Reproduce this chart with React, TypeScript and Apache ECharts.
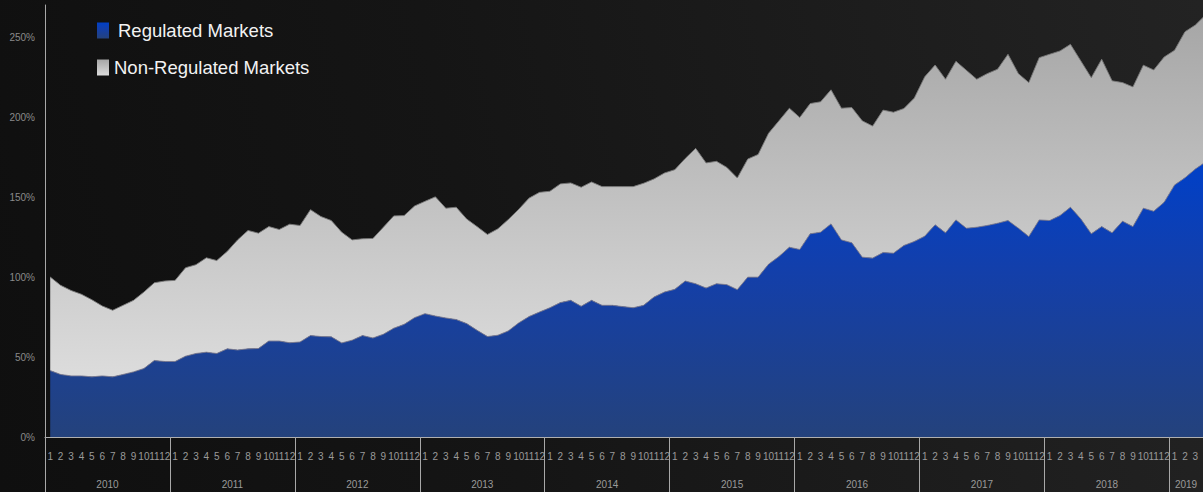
import React, { useEffect, useRef } from 'react';
import * as echarts from 'echarts';

const years = ['2010', '2011', '2012', '2013', '2014', '2015', '2016', '2017', '2018', '2019'];
const monthCount = 112;
const categories = Array.from({ length: monthCount }, (_, i) => `${years[Math.floor(i / 12)]}-${(i % 12) + 1}`);

const regulated = [
  41.5, 39.1, 38.2, 38.2, 37.6, 38.2, 37.6, 39.1, 40.7, 42.8, 47.8, 47.2,
  47.2, 50.5, 52.2, 53.0, 52.2, 55.1, 54.4, 55.1, 55.3, 60.0, 60.0, 58.9,
  59.4, 63.4, 62.8, 62.6, 58.8, 60.5, 63.4, 61.9, 64.2, 68.0, 70.4, 74.6,
  77.1, 75.6, 74.4, 73.4, 70.9, 66.7, 62.8, 63.6, 66.3, 71.3, 75.3, 78.1,
  80.8, 84.0, 85.4, 81.7, 85.4, 82.3, 82.3, 81.5, 80.8, 82.3, 87.5, 90.6,
  92.3, 97.5, 95.8, 93.1, 95.8, 95.2, 92.1, 99.9, 99.9, 108.0, 112.8, 118.6,
  117.2, 127.0, 128.0, 133.2, 123.2, 121.4, 112.4, 111.8, 115.3, 114.9, 119.7, 122.2,
  125.5, 132.6, 127.6, 135.7, 130.5, 131.1, 132.2, 133.6, 135.3, 130.5, 125.3, 135.7,
  135.3, 138.4, 143.6, 136.3, 127.0, 131.5, 127.6, 134.9, 131.5, 143.0, 141.1, 146.7,
  157.5, 162.0, 167.5, 172.0,
];

const nonRegulated = [
  58.5, 55.7, 53.4, 51.0, 48.2, 43.7, 41.6, 43.2, 44.7, 47.8, 48.6, 50.3,
  50.7, 55.3, 55.5, 59.0, 58.1, 60.9, 68.8, 74.0, 72.1, 71.5, 69.7, 74.1,
  72.8, 78.7, 75.0, 72.7, 69.2, 62.7, 60.5, 62.2, 66.9, 70.2, 68.0, 69.8,
  70.2, 74.5, 68.6, 70.2, 65.4, 64.8, 63.8, 66.5, 69.6, 71.0, 74.0, 74.8,
  72.8, 74.2, 73.4, 74.4, 74.0, 74.2, 74.2, 75.0, 75.7, 76.3, 73.8, 74.4,
  74.8, 76.6, 84.6, 78.2, 76.5, 73.3, 69.8, 73.8, 76.7, 81.8, 84.8, 86.9,
  82.5, 81.4, 81.5, 83.8, 82.3, 84.5, 85.2, 82.5, 89.0, 88.1, 85.6, 89.6,
  99.6, 99.9, 96.0, 99.1, 98.7, 92.5, 94.9, 96.3, 103.9, 96.6, 96.2, 101.4,
  103.9, 102.9, 101.8, 98.7, 97.6, 104.6, 95.0, 86.6, 87.3, 89.4, 88.3, 90.8,
  84.2, 91.3, 90.0, 92.0,
];

const yearTickPositions = [0, 12, 24, 36, 48, 60, 72, 84, 96, 108];
const yearLabelPositions = [6, 18, 30, 42, 54, 66, 78, 90, 102, 109.6];

const FONT = "'Liberation Sans', Arial, sans-serif";

export default function App() {
  const ref = useRef<HTMLDivElement>(null);

  useEffect(() => {
    if (!ref.current) return;
    const chart = echarts.init(ref.current, null, { renderer: 'svg' });

    const blueGrad = new echarts.graphic.LinearGradient(0, 0, 0, 1, [
      { offset: 0, color: '#0040c8' },
      { offset: 0.4, color: '#133faa' },
      { offset: 1, color: '#24427c' },
    ]);
    const grayGrad = new echarts.graphic.LinearGradient(0, 0, 0, 1, [
      { offset: 0, color: '#a6a6a6' },
      { offset: 1, color: '#dcdcdc' },
    ]);

    chart.setOption({
      animation: false,
      backgroundColor: 'transparent',
      grid: {
        left: 45,
        top: 5,
        bottom: 55,
        width: 1166,
        containLabel: false,
        outerBoundsMode: 'none',
      },
      legend: {
        orient: 'vertical',
        left: 92,
        top: 16,
        itemGap: 18,
        itemWidth: 12,
        itemHeight: 16,
        icon: 'rect',
        selectedMode: false,
        textStyle: { color: '#f2f2f2', fontSize: 18.5, fontFamily: FONT },
        data: [
          { name: 'Regulated Markets', textStyle: { padding: [0, 0, 0, 4] } },
          { name: 'Non-Regulated Markets' },
        ],
      },
      xAxis: [
        {
          type: 'category',
          data: categories,
          boundaryGap: true,
          position: 'bottom',
          axisLine: { show: true, lineStyle: { color: '#b0b0b0', width: 1 } },
          axisTick: { show: false },
          splitLine: { show: false },
          axisLabel: {
            interval: (index: number) => index < 111,
            formatter: (v: string) => v.split('-')[1],
            color: '#9a9a9a',
            fontSize: 10,
            fontFamily: FONT,
            margin: 14,
          },
        },
        {
          type: 'value',
          position: 'bottom',
          min: 0,
          max: monthCount,
          axisLine: { show: false },
          splitLine: { show: false },
          axisTick: {
            show: true,
            customValues: yearTickPositions,
            length: 55,
            lineStyle: { color: '#a8a8a8', width: 1 },
          },
          axisLabel: {
            show: true,
            customValues: yearLabelPositions,
            formatter: (v: number) => years[Math.floor(v / 12)],
            color: '#9a9a9a',
            fontSize: 10,
            fontFamily: FONT,
            margin: 42,
          },
        },
      ],
      yAxis: {
        type: 'value',
        min: 0,
        max: 270,
        interval: 50,
        axisLine: { show: true, lineStyle: { color: '#a8a8a8', width: 1 } },
        axisTick: { show: false },
        splitLine: { show: false },
        axisLabel: {
          formatter: '{value}%',
          color: '#8a8a8a',
          fontSize: 10,
          fontFamily: FONT,
          margin: 10,
          showMaxLabel: false,
        },
      },
      series: [
        {
          name: 'Regulated Markets',
          type: 'line',
          stack: 'total',
          data: regulated,
          xAxisIndex: 0,
          symbol: 'none',
          showSymbol: false,
          lineStyle: { width: 1, color: 'rgba(128,128,150,0.9)' },
          itemStyle: { color: blueGrad },
          areaStyle: { color: blueGrad, opacity: 1 },
          emphasis: { disabled: true },
          z: 3,
        },
        {
          name: 'Non-Regulated Markets',
          type: 'line',
          stack: 'total',
          data: nonRegulated,
          xAxisIndex: 0,
          symbol: 'none',
          showSymbol: false,
          lineStyle: { width: 1, color: 'rgba(120,120,120,0.9)' },
          itemStyle: { color: grayGrad },
          areaStyle: { color: grayGrad, opacity: 1 },
          emphasis: { disabled: true },
          z: 2,
        },
      ],
    });

    return () => chart.dispose();
  }, []);

  return (
    <div
      ref={ref}
      style={{
        position: 'fixed',
        left: 0,
        top: 0,
        width: 1203,
        height: 492,
        background: 'linear-gradient(78deg, #0f0f0f 0%, #151515 40%, #1c1c1c 70%, #232323 100%)',
      }}
    />
  );
}
